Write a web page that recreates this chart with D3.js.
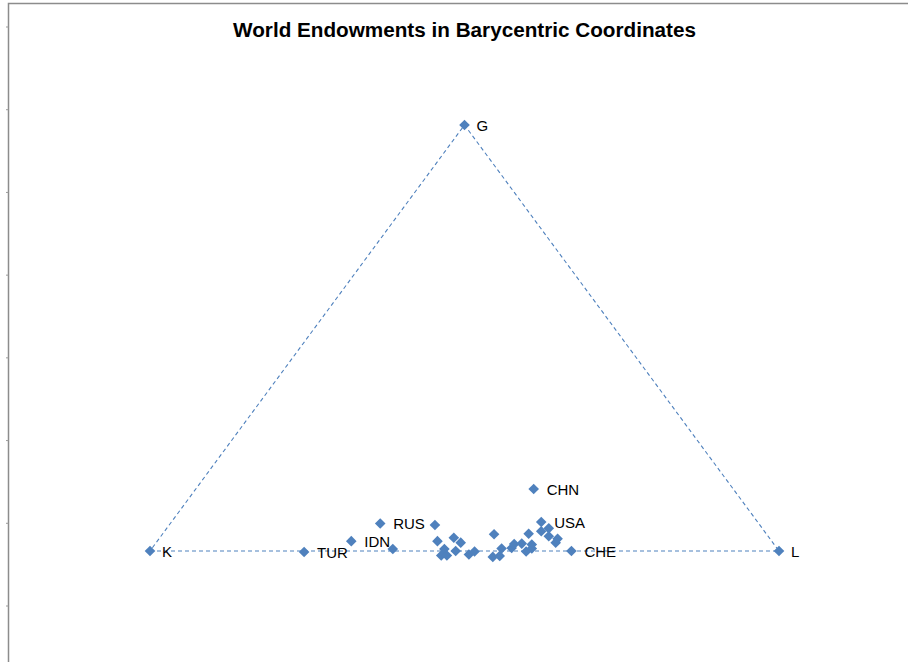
<!DOCTYPE html>
<html>
<head>
<meta charset="utf-8">
<script src="https://cdn.jsdelivr.net/npm/d3@7"></script>
<style>
  html, body { margin: 0; padding: 0; background: #fff; }
  svg { display: block; }
</style>
</head>
<body>
<script>
// ---- Data (barycentric plane: x along K→L, y towards G) ----
const vertexNames = ["K", "L", "G"];
const vertexX = [0, 1, 0.5];
const vertexY = [0, 0, 0.866];

const countryNames = ["TUR", "IDN", "RUS", "CHN", "USA", "CHE",
  "", "", "", "", "", "", "", "", "", "", "", "", "", "", "", "", "", "", "", "", "", "", "", "", "", "", ""];
const countryX = [0.245, 0.320, 0.366, 0.610, 0.622, 0.670,
  0.386, 0.453, 0.457, 0.483, 0.494, 0.468, 0.486, 0.463, 0.472, 0.507, 0.516,
  0.547, 0.545, 0.559, 0.556, 0.575, 0.579, 0.591, 0.602, 0.598, 0.607, 0.607,
  0.622, 0.634, 0.634, 0.648, 0.645];
const countryY = [-0.002, 0.020, 0.056, 0.126, 0.059, 0.000,
  0.004, 0.053, 0.020, 0.027, 0.017, 0.004, 0.000, -0.009, -0.009, -0.007, -0.001,
  0.034, -0.012, 0.005, -0.010, 0.006, 0.014, 0.015, 0.035, -0.001, 0.013, 0.005,
  0.040, 0.046, 0.030, 0.025, 0.017];

const title = "World Endowments in Barycentric Coordinates";

// ---- Layout ----
const W = 908, H = 662;
const blue = "#4F81BD";
const svg = d3.select("body").append("svg").attr("width", W).attr("height", H);

// outer chart frame (top and left edges visible)
svg.append("path")
  .attr("d", `M8.5,${H} L8.5,3.5 L${W},3.5`)
  .attr("fill", "none").attr("stroke", "#8c8c8c").attr("stroke-width", 1.5);
const frameScale = d3.scaleLinear().domain([0, 7]).range([27, 606]);
svg.append("g").selectAll("line").data(d3.range(0, 8)).join("line")
  .attr("x1", 6).attr("x2", 8.5)
  .attr("y1", d => frameScale(d)).attr("y2", d => frameScale(d))
  .attr("stroke", "#9a9a9a").attr("stroke-width", 1);

const x = d3.scaleLinear().domain([0, 1]).range([150, 779]);
const y = d3.scaleLinear().domain([0, 0.866]).range([551, 125]);

// title
const t = svg.append("text")
  .attr("x", 464.5).attr("y", 37)
  .attr("text-anchor", "middle")
  .attr("font-family", "Liberation Sans, Arial, sans-serif")
  .attr("font-weight", "bold")
  .attr("font-size", 18)
  .attr("fill", "#000")
  .text(title);
const tw = t.node().getComputedTextLength();
t.attr("font-size", 18 * 463 / tw);

// triangle (dashed)
const tri = d3.range(vertexNames.length).concat([0]);
svg.append("path")
  .datum(tri)
  .attr("d", d3.line().x(i => x(vertexX[i])).y(i => y(vertexY[i])))
  .attr("fill", "none").attr("stroke", blue)
  .attr("stroke-width", 1.1).attr("stroke-dasharray", "4,3");

const diamondPath = "M0,-5.3L5.3,0L0,5.3L-5.3,0Z";
const labelFont = "Liberation Sans, Arial, sans-serif";

// vertices
const vg = svg.append("g");
vg.selectAll("path").data(d3.range(vertexNames.length)).join("path")
  .attr("d", diamondPath)
  .attr("transform", i => `translate(${x(vertexX[i])},${y(vertexY[i])})`)
  .attr("fill", blue);
vg.selectAll("text").data(d3.range(vertexNames.length)).join("text")
  .attr("x", i => x(vertexX[i]) + 12)
  .attr("y", i => y(vertexY[i]) + 5.5)
  .attr("font-family", labelFont).attr("font-size", 15).attr("fill", "#000")
  .text(i => vertexNames[i]);

// countries
const cg = svg.append("g");
const idx = d3.range(countryX.length);
cg.selectAll("path").data(idx).join("path")
  .attr("d", diamondPath)
  .attr("transform", i => `translate(${x(countryX[i])},${y(countryY[i])})`)
  .attr("fill", blue);
cg.selectAll("text").data(idx.filter(i => countryNames[i])).join("text")
  .attr("x", i => x(countryX[i]) + 13)
  .attr("y", i => y(countryY[i]) + 6)
  .attr("font-family", labelFont).attr("font-size", 15).attr("fill", "#000")
  .text(i => countryNames[i]);
</script>
</body>
</html>
